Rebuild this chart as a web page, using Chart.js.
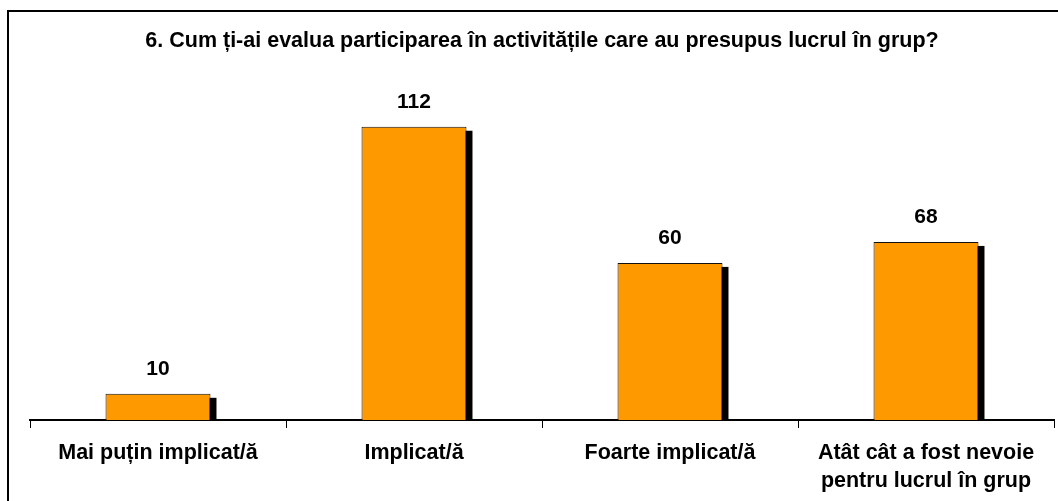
<!DOCTYPE html>
<html>
<head>
<meta charset="utf-8">
<script src="https://cdn.jsdelivr.net/npm/chart.js@4.4.0/dist/chart.umd.min.js"></script>
<style>
  html, body { margin: 0; padding: 0; background: #fff; overflow: hidden; }
  #frame { position: absolute; left: 7px; top: 10px; width: 1100px; height: 560px; border: 2px solid #000; }
  #wrap { position: absolute; left: 0; top: 0; width: 1058px; height: 501px; }
</style>
</head>
<body>
<div id="frame"></div>
<div id="wrap"><canvas id="chart"></canvas></div>
<script>
// Datos del gráfico
const titleText = '6. Cum ți-ai evalua participarea în activitățile care au presupus lucrul în grup?';
const categories = [
  'Mai puțin implicat/ă',
  'Implicat/ă',
  'Foarte implicat/ă',
  ['Atât cât a fost nevoie', 'pentru lucrul în grup']
];
const values = [10, 112, 60, 68];

const FONT = 'Arial, "Liberation Sans", sans-serif';

// Sombra negra desplazada detrás de cada barra
const barShadow = {
  id: 'barShadow',
  beforeDatasetsDraw(chart) {
    const ctx = chart.ctx;
    const meta = chart.getDatasetMeta(0);
    ctx.save();
    ctx.fillStyle = '#000';
    meta.data.forEach(bar => {
      const w = bar.width;
      const top = bar.y + 4;
      ctx.fillRect(bar.x - w / 2 + 6, top, w, bar.base - top);
    });
    ctx.restore();
  }
};

// Etiquetas de valor encima de las barras
const valueLabels = {
  id: 'valueLabels',
  afterDatasetsDraw(chart) {
    const ctx = chart.ctx;
    const meta = chart.getDatasetMeta(0);
    ctx.save();
    ctx.font = 'bold 21px ' + FONT;
    ctx.fillStyle = '#000';
    ctx.textAlign = 'center';
    ctx.textBaseline = 'alphabetic';
    meta.data.forEach((bar, i) => {
      ctx.fillText(String(values[i]), bar.x, bar.y - 18.5);
    });
    ctx.restore();
  }
};

new Chart(document.getElementById('chart'), {
  type: 'bar',
  data: {
    labels: categories,
    datasets: [{
      data: values,
      backgroundColor: '#FF9900',
      borderColor: '#111',
      borderWidth: 1,
      borderSkipped: 'bottom',
      barPercentage: 0.41,
      categoryPercentage: 1
    }]
  },
  options: {
    responsive: true,
    maintainAspectRatio: false,
    animation: false,
    layout: { padding: { left: 30, right: 4, top: 0, bottom: 0 } },
    scales: {
      x: {
        z: 1,
        afterFit(scale) { scale.height = 81; },
        grid: {
          display: true,
          drawOnChartArea: false,
          drawTicks: true,
          tickLength: 8,
          offset: true,
          color: '#000',
          lineWidth: 1
        },
        border: { display: true, color: '#000', width: 2 },
        ticks: {
          color: '#000',
          padding: 11,
          maxRotation: 0,
          autoSkip: false,
          font: { family: FONT, size: 21.5, weight: 'bold', lineHeight: 1.3 }
        }
      },
      y: {
        display: false,
        min: 0,
        max: 120
      }
    },
    plugins: {
      legend: { display: false },
      tooltip: { enabled: false },
      title: {
        display: true,
        text: titleText,
        color: '#000',
        font: { family: FONT, size: 21.5, weight: 'bold', lineHeight: 1.2 },
        padding: { top: 28, bottom: 52 }
      }
    }
  },
  plugins: [barShadow, valueLabels]
});
</script>
</body>
</html>
